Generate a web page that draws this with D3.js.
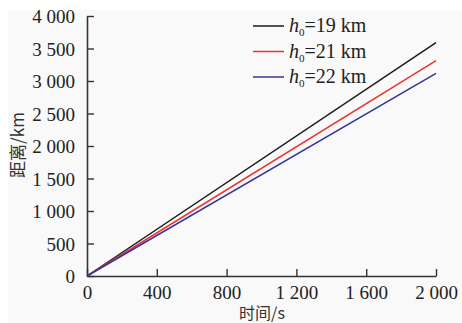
<!DOCTYPE html>
<html>
<head>
<meta charset="utf-8">
<script src="https://cdn.jsdelivr.net/npm/d3@7"></script>
<style>
  body { margin: 0; background: #fff; }
  svg { display: block; font-family: "Liberation Serif", "Times New Roman", serif; }
</style>
</head>
<body>
<div id="chart"></div>
<script>
const times = [0, 2000];
const seriesNames = ['19', '21', '22'];
const seriesValues = [
  [0, 3590],
  [0, 3312],
  [0, 3118]
];
const seriesColors = ['#1a1a1a', '#ee3030', '#34349a'];
const xTicks = [0, 400, 800, 1200, 1600, 2000];
const yTicks = [0, 500, 1000, 1500, 2000, 2500, 3000, 3500, 4000];

const W = 462, H = 323;
const margin = { top: 16, right: 26, bottom: 47, left: 87 };
const width = W - margin.left - margin.right;
const height = H - margin.top - margin.bottom;

const svg = d3.select('#chart').append('svg')
  .attr('width', W)
  .attr('height', H);

svg.append('rect')
  .attr('x', 8).attr('y', 10)
  .attr('width', W - 8).attr('height', H - 10)
  .attr('fill', '#f9f9f9');

const g = svg.append('g')
  .attr('transform', `translate(${margin.left},${margin.top})`);

const x = d3.scaleLinear().domain([0, 2000]).range([0, width]);
const y = d3.scaleLinear().domain([0, 4000]).range([height, 0]);

const fmt = d => d >= 1000 ? d3.format(',')(d).replace(',', ' ') : String(d);

const xAxis = g.append('g')
  .attr('transform', `translate(0,${height})`)
  .call(d3.axisBottom(x).tickValues(xTicks).tickSizeInner(-7).tickSizeOuter(0).tickPadding(10).tickFormat(fmt));

const yAxis = g.append('g')
  .call(d3.axisLeft(y).tickValues(yTicks).tickSizeInner(-7).tickSizeOuter(0).tickPadding(12).tickFormat(fmt));

[xAxis, yAxis].forEach(a => {
  a.attr('font-family', null);
  a.select('.domain').attr('stroke', '#333').attr('stroke-width', 1.6);
  a.selectAll('.tick line').attr('stroke', '#333').attr('stroke-width', 1.4);
  a.selectAll('text')
    .style('font-family', '"Liberation Serif", "DejaVu Serif", serif')
    .style('font-size', '19px')
    .style('fill', '#222');
});
yAxis.selectAll('text').attr('dy', '0.35em');

const line = d3.line()
  .x((d, i) => x(times[i]))
  .y(d => y(d));

seriesValues.forEach((vals, k) => {
  g.append('path')
    .datum(vals)
    .attr('d', line)
    .attr('fill', 'none')
    .attr('stroke', seriesColors[k])
    .attr('stroke-width', 1.5);
});

// legend
const legend = svg.append('g').attr('transform', 'translate(253,26)');
seriesNames.forEach((name, k) => {
  const row = legend.append('g').attr('transform', `translate(0,${k * 25.5})`);
  row.append('line')
    .attr('x1', 0).attr('x2', 31)
    .attr('stroke', seriesColors[k])
    .attr('stroke-width', 1.5);
  const t = row.append('text')
    .attr('x', 36).attr('y', 6)
    .style('font-size', '20px')
    .style('fill', '#222');
  t.append('tspan').style('font-style', 'italic').text('h');
  t.append('tspan').attr('dy', 4).style('font-size', '11px').text('0');
  t.append('tspan').attr('dy', -4).text(`=${name} km`);
});

// axis labels
svg.append('text')
  .attr('x', 262).attr('y', 319)
  .attr('text-anchor', 'middle')
  .style('font-family', '"Noto Sans CJK SC", "Liberation Serif", serif')
  .style('font-size', '16px')
  .style('fill', '#333')
  .text('时间/s');

svg.append('text')
  .attr('transform', 'translate(24,145) rotate(-90)')
  .attr('text-anchor', 'middle')
  .style('font-family', '"Noto Sans CJK SC", "Liberation Serif", serif')
  .style('font-size', '17px')
  .style('fill', '#333')
  .text('距离/km');
</script>
</body>
</html>
